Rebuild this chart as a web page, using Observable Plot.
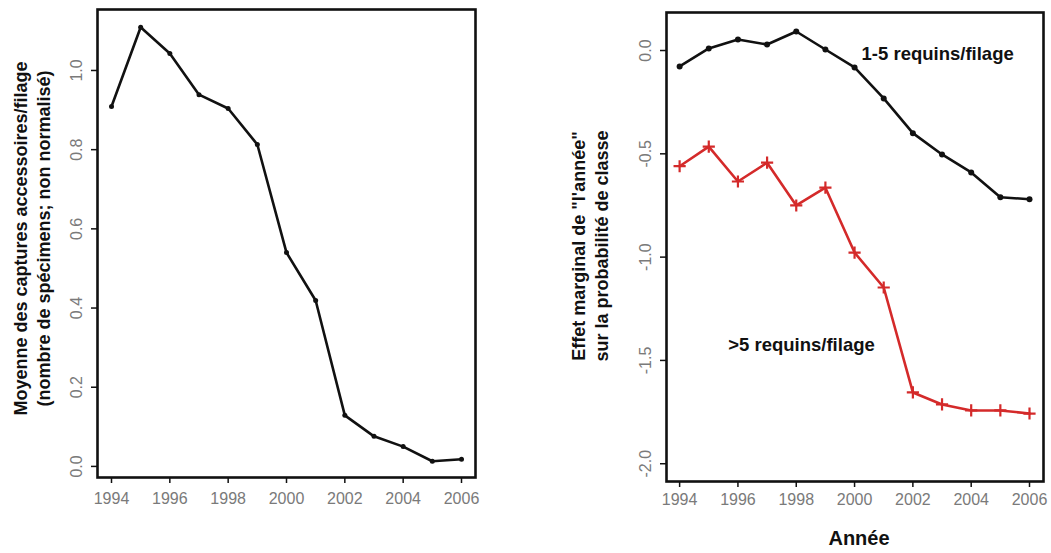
<!DOCTYPE html>
<html>
<head>
<meta charset="utf-8">
<script src="https://cdn.jsdelivr.net/npm/d3@7"></script>
<script src="https://cdn.jsdelivr.net/npm/@observablehq/plot@0.6"></script>
<style>
  html, body { margin: 0; padding: 0; background: #fff; }
  #wrap { position: relative; width: 1051px; height: 553px; overflow: hidden; }
  #left, #right { position: absolute; top: 0; }
  #left { left: 0; }
  #right { left: 540px; }
</style>
</head>
<body>
<div id="wrap"><div id="left"></div><div id="right"></div></div>
<script>
// ---- data ----
const years = [1994, 1995, 1996, 1997, 1998, 1999, 2000, 2001, 2002, 2003, 2004, 2005, 2006];
const bycatchMean = [0.909, 1.109, 1.043, 0.939, 0.904, 0.813, 0.54, 0.419, 0.129, 0.076, 0.05, 0.013, 0.018];
const effect1to5 = [-0.077, 0.01, 0.053, 0.029, 0.092, 0.005, -0.082, -0.232, -0.40, -0.503, -0.59, -0.71, -0.72];
const effectOver5 = [-0.56, -0.465, -0.634, -0.543, -0.75, -0.664, -0.978, -1.147, -1.655, -1.713, -1.742, -1.742, -1.757];
const xTicks = [1994, 1996, 1998, 2000, 2002, 2004, 2006];
const leftYTicks = [0, 0.2, 0.4, 0.6, 0.8, 1.0];
const rightYTicks = [0, -0.5, -1.0, -1.5, -2.0];
const leftTitle = "Moyenne des captures accessoires/filage\n(nombre de spécimens; non normalisé)";
const rightTitle = "Effet marginal de \"l'année\"\nsur la probabilité de classe";
const xTitle = "Année";
const seriesLabels = [
  {label: "1-5 requins/filage", year: 2002.85, value: -0.015},
  {label: ">5 requins/filage", year: 1998.18, value: -1.428}
];

const leftData = years.map((y, i) => ({year: y, value: bycatchMean[i]}));
const blackData = years.map((y, i) => ({year: y, value: effect1to5[i]}));
const redData = years.map((y, i) => ({year: y, value: effectOver5[i]}));

const FONT = "'Liberation Sans', Arial, sans-serif";
const RED = "#d42a2a";
const TICKTXT = "#7a7a7a";

const left = Plot.plot({
  width: 520, height: 553,
  marginLeft: 97, marginRight: 45, marginTop: 9, marginBottom: 76,
  style: {fontFamily: FONT, fontSize: "16px", background: "#fff"},
  x: {domain: [1993.52, 2006.48]},
  y: {domain: [-0.028, 1.154]},
  marks: [
    Plot.axisX({ticks: xTicks, tickFormat: d => String(d), tickSize: 6, tickPadding: 9, stroke: "#111", fill: TICKTXT, strokeWidth: 1.5, fontSize: 16, label: null}),
    Plot.axisY({ticks: leftYTicks, tickFormat: d => d.toFixed(1), tickSize: 6, tickPadding: 15, tickRotate: -90, textAnchor: "middle", lineAnchor: "middle", stroke: "#111", fill: TICKTXT, strokeWidth: 1.5, fontSize: 16, label: null}),
    Plot.line(leftData, {x: "year", y: "value", stroke: "#111", strokeWidth: 2.6}),
    Plot.dot(leftData, {x: "year", y: "value", r: 2.5, fill: "#111"}),
    Plot.frame({stroke: "#111", strokeWidth: 2.6}),
    Plot.text([leftTitle], {text: d => d, frameAnchor: "left", dx: -66, dy: -5, rotate: -90, textAnchor: "middle", lineAnchor: "middle", lineHeight: 1.28, fontWeight: "bold", fontSize: 18, fill: "#111"})
  ]
});
document.getElementById("left").appendChild(left);

const right = Plot.plot({
  width: 511, height: 553,
  marginLeft: 126, marginRight: 8, marginTop: 12, marginBottom: 72,
  style: {fontFamily: FONT, fontSize: "16px", background: "#fff"},
  x: {domain: [1993.55, 2006.48]},
  y: {domain: [-2.086, 0.184]},
  marks: [
    Plot.axisX({ticks: xTicks, tickFormat: d => String(d), tickSize: 6, tickPadding: 6, stroke: "#111", fill: TICKTXT, strokeWidth: 1.5, fontSize: 16, label: null}),
    Plot.axisY({ticks: rightYTicks, tickFormat: d => d.toFixed(1), tickSize: 6, tickPadding: 15, tickRotate: -90, textAnchor: "middle", lineAnchor: "middle", stroke: "#111", fill: TICKTXT, strokeWidth: 1.5, fontSize: 16, label: null}),
    Plot.line(blackData, {x: "year", y: "value", stroke: "#111", strokeWidth: 2.6}),
    Plot.dot(blackData, {x: "year", y: "value", r: 3, fill: "#111"}),
    Plot.line(redData, {x: "year", y: "value", stroke: RED, strokeWidth: 2.6}),
    Plot.dot(redData, {x: "year", y: "value", symbol: "plus", r: 4, stroke: RED, strokeWidth: 2.2}),
    Plot.text(seriesLabels, {x: "year", y: "value", text: "label", fontWeight: "bold", fontSize: 18.5, fill: "#111"}),
    Plot.frame({stroke: "#111", strokeWidth: 2.6}),
    Plot.text([rightTitle], {text: d => d, frameAnchor: "left", dx: -77, dy: -1, rotate: -90, textAnchor: "middle", lineAnchor: "middle", lineHeight: 1.28, fontWeight: "bold", fontSize: 18, fill: "#111"}),
    Plot.text([xTitle], {text: d => d, frameAnchor: "bottom", dy: 57, dx: 4, lineAnchor: "middle", fontWeight: "bold", fontSize: 20, fill: "#111"})
  ]
});
document.getElementById("right").appendChild(right);
</script>
</body>
</html>
